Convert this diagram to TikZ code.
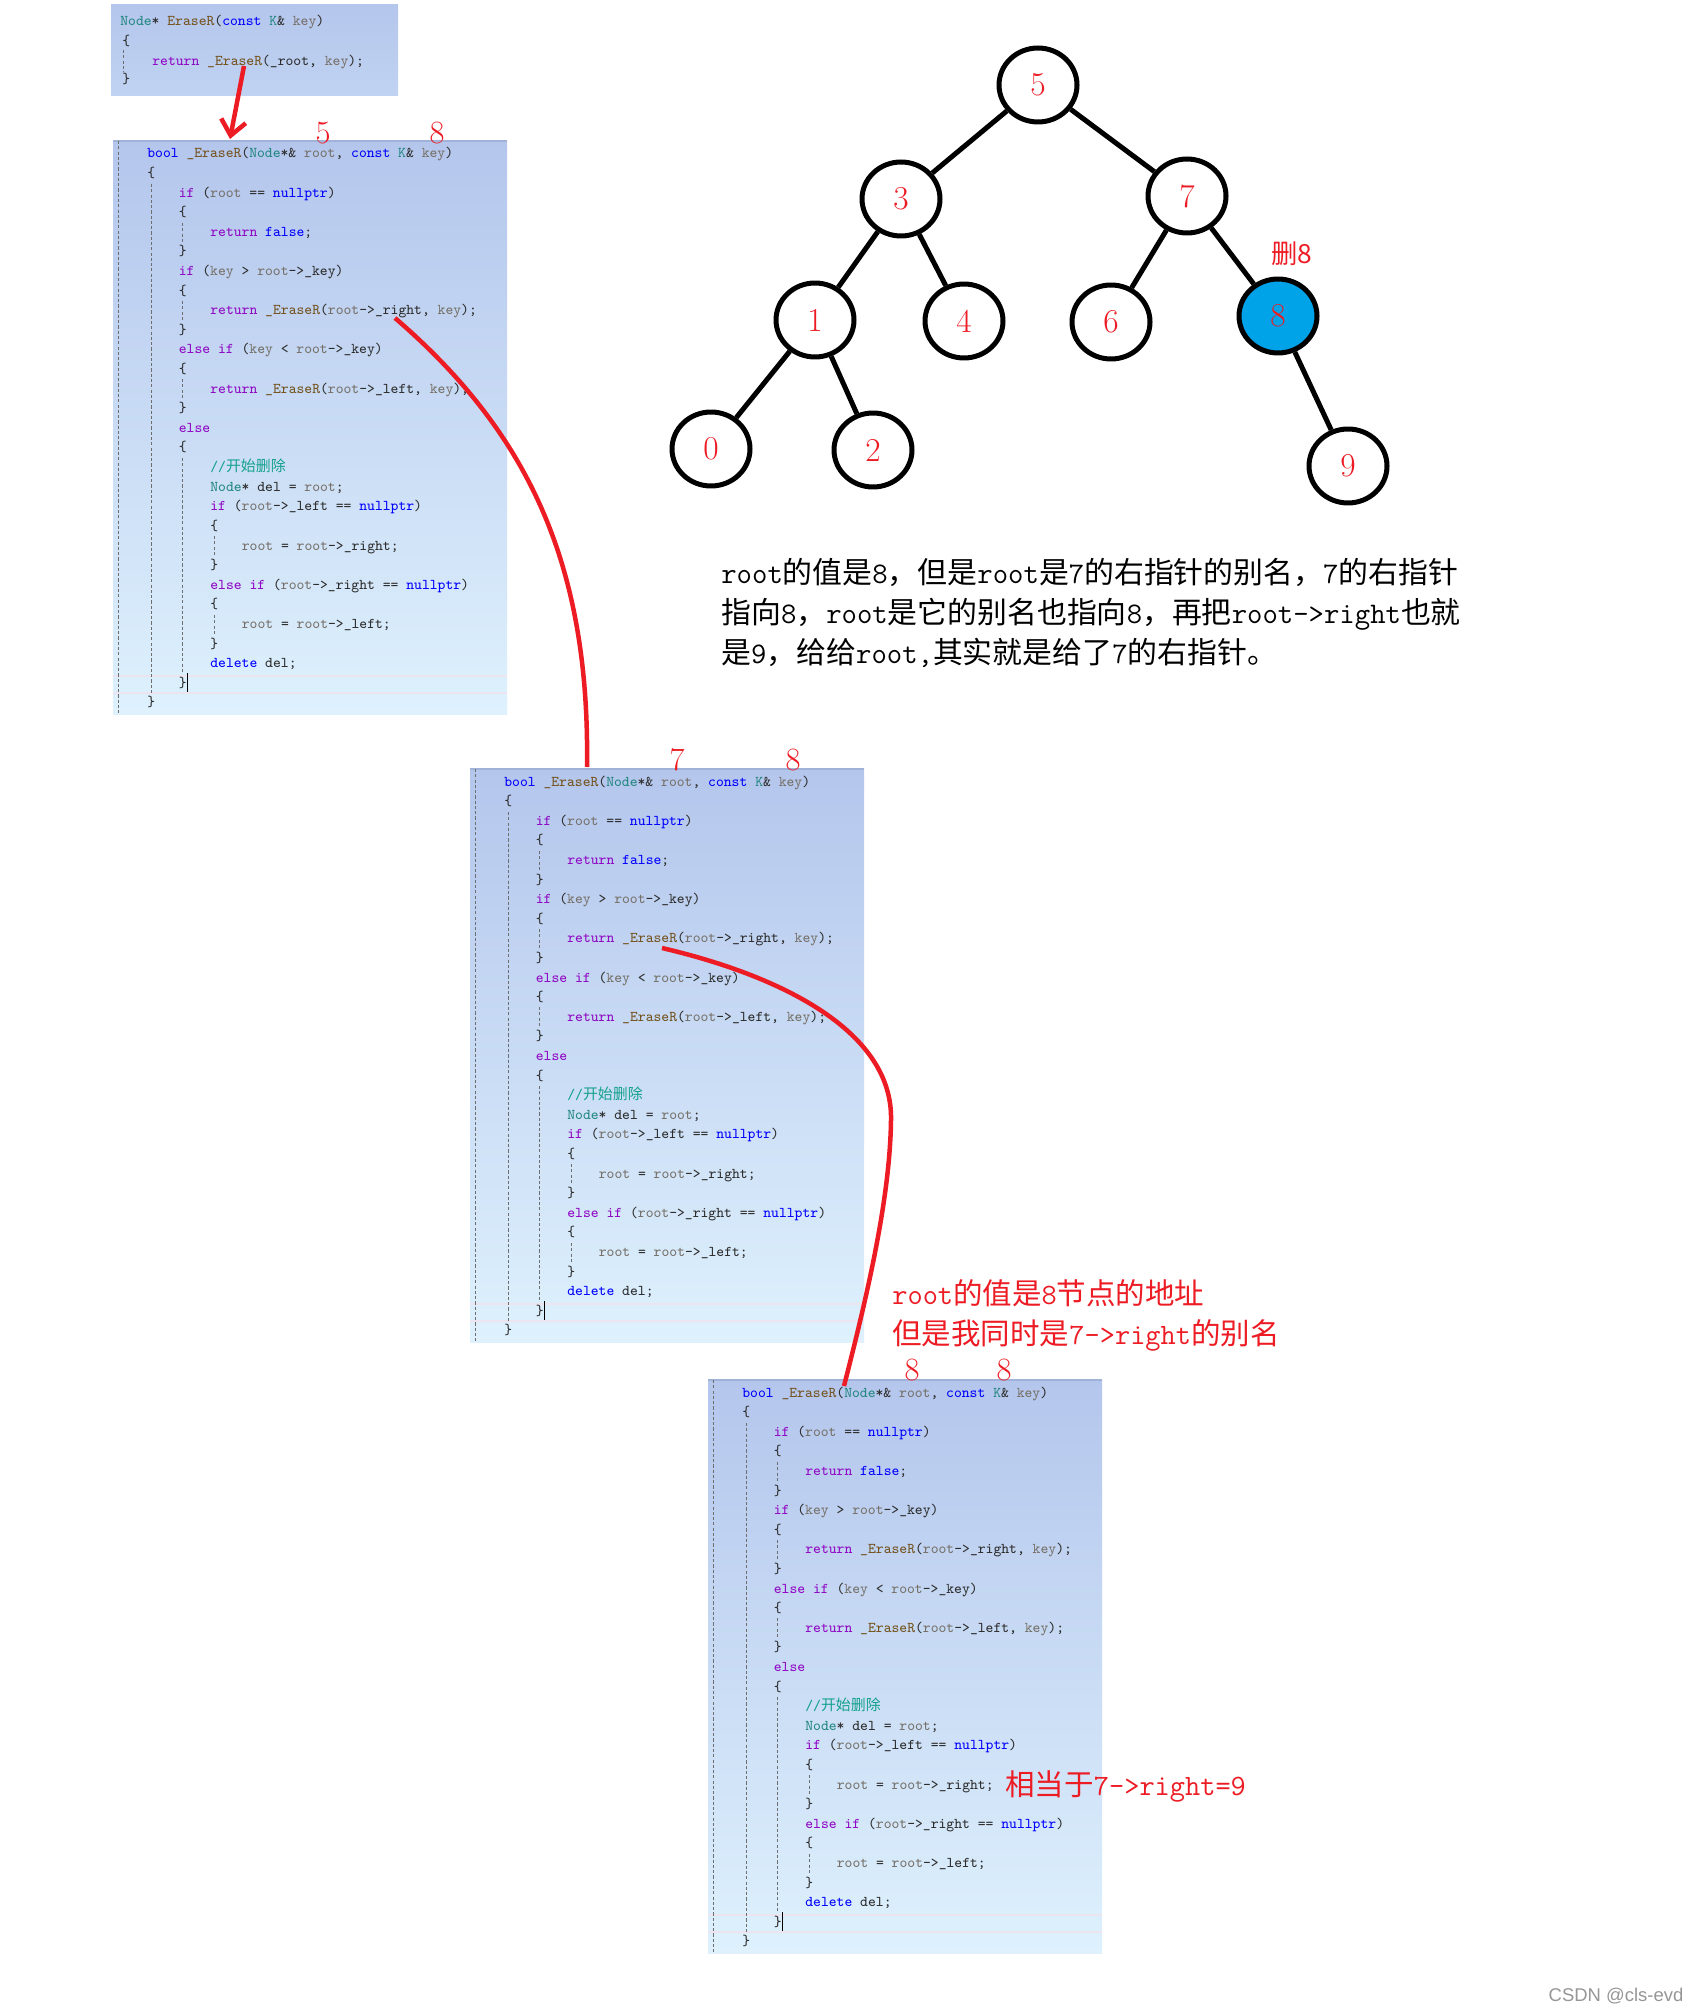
\documentclass[tikz,border=0pt]{standalone}
\usepackage{fontspec}
\usetikzlibrary{arrows.meta,shapes.geometric}
\newfontfamily\cjk{Noto Sans CJK SC}
\newfontfamily\wmfont{Liberation Sans}
\definecolor{markred}{RGB}{237,28,36}
\definecolor{delblue}{RGB}{0,162,232}
\definecolor{pnltop}{RGB}{180,198,236}
\definecolor{pnlbot}{RGB}{222,241,253}
\definecolor{pnlline}{RGB}{160,178,215}
\definecolor{curpink}{RGB}{236,228,238}
\definecolor{guidegray}{RGB}{110,110,110}
\definecolor{codetxt}{RGB}{45,45,45}
\definecolor{kwblue}{RGB}{0,0,255}
\definecolor{kwpurple}{RGB}{143,8,196}
\definecolor{typeteal}{RGB}{35,135,130}
\definecolor{fnbrown}{RGB}{116,83,31}
\definecolor{paramgray}{RGB}{118,112,105}
\definecolor{cmtgreen}{RGB}{20,160,140}
\definecolor{wmgray}{RGB}{150,150,150}

% chinese runs inside latin text
\newcommand\zh[1]{{\cjk #1}}

% token colours of the code screenshots
\newcommand\cKw[1]{\textcolor{kwblue}{#1}}
\newcommand\cCt[1]{\textcolor{kwpurple}{#1}}
\newcommand\cTy[1]{\textcolor{typeteal}{#1}}
\newcommand\cFn[1]{\textcolor{fnbrown}{#1}}
\newcommand\cPa[1]{\textcolor{paramgray}{#1}}
\newcommand\cCm[1]{\textcolor{cmtgreen}{#1}}
\newcommand\cursorbar{\textcolor{black}{\rule[-2.5pt]{0.8pt}{10.5pt}}}

% one code line: number, indent level, text
\newcommand\codeln[3]{\node[codeline] (\pnlname-#1) at ({34+31.5*#2},{17+19.6*(#1-1)}) {#3};}

% one _EraseR screenshot panel: name, x, y
\newcommand\codepanel[3]{%
  \def\pnlname{#1}%
  \begin{scope}[shift={(#2,#3)}]
    \shade[top color=pnltop,bottom color=pnlbot] (0,0) rectangle (394,573);
    \draw[pnledge] (0,0) -- (394,0);
    \draw[curline] (0,535) -- (394,535) (0,552) -- (394,552);
    % indent guides
    \draw[guide] (5,0) -- (5,573);
    \draw[guide] (38,43) -- (38,552);
    \draw[guide] (69.5,82) -- (69.5,101) (69.5,160) -- (69.5,180)
      (69.5,238) -- (69.5,258) (69.5,317) -- (69.5,532);
    \draw[guide] (101,395) -- (101,415) (101,474) -- (101,493);
    \codeln{1}{0}{\cKw{bool} \cFn{\_EraseR}(\cTy{Node}*\& \cPa{root}, \cKw{const} \cTy{K}\& \cPa{key})}
    \codeln{2}{0}{\{}
    \codeln{3}{1}{\cCt{if} (\cPa{root} == \cKw{nullptr})}
    \codeln{4}{1}{\{}
    \codeln{5}{2}{\cCt{return} \cKw{false};}
    \codeln{6}{1}{\}}
    \codeln{7}{1}{\cCt{if} (\cPa{key} > \cPa{root}->\_key)}
    \codeln{8}{1}{\{}
    \codeln{9}{2}{\cCt{return} \cFn{\_EraseR}(\cPa{root}->\_right, \cPa{key});}
    \codeln{10}{1}{\}}
    \codeln{11}{1}{\cCt{else} \cCt{if} (\cPa{key} < \cPa{root}->\_key)}
    \codeln{12}{1}{\{}
    \codeln{13}{2}{\cCt{return} \cFn{\_EraseR}(\cPa{root}->\_left, \cPa{key});}
    \codeln{14}{1}{\}}
    \codeln{15}{1}{\cCt{else}}
    \codeln{16}{1}{\{}
    \codeln{17}{2}{\cCm{//\zh{开始删除}}}
    \codeln{18}{2}{\cTy{Node}* del = \cPa{root};}
    \codeln{19}{2}{\cCt{if} (\cPa{root}->\_left == \cKw{nullptr})}
    \codeln{20}{2}{\{}
    \codeln{21}{3}{\cPa{root} = \cPa{root}->\_right;}
    \codeln{22}{2}{\}}
    \codeln{23}{2}{\cCt{else} \cCt{if} (\cPa{root}->\_right == \cKw{nullptr})}
    \codeln{24}{2}{\{}
    \codeln{25}{3}{\cPa{root} = \cPa{root}->\_left;}
    \codeln{26}{2}{\}}
    \codeln{27}{2}{\cKw{delete} del;}
    \codeln{28}{1}{\}\cursorbar}
    \codeln{29}{0}{\}}
    \coordinate (#1-in) at (117,-2);
    \coordinate (#1-right) at (282,177);
    \coordinate (#1-call) at (192,179);
  \end{scope}}

\begin{document}
\begin{tikzpicture}[x=0.02cm,y=-0.02cm]
  \tikzstyle{codeline}=[anchor=base west,inner sep=0,text=codetxt,
    font=\fontsize{8.5pt}{10pt}\selectfont\ttfamily]
  \tikzstyle{guide}=[draw=guidegray,line width=0.5pt,dash pattern=on 1.8pt off 1.2pt]
  \tikzstyle{pnledge}=[draw=pnlline,line width=0.8pt]
  \tikzstyle{curline}=[draw=curpink,line width=0.8pt]
  \tikzstyle{bst}=[ellipse,draw=black,line width=0.1cm,minimum width=1.56cm,
    minimum height=1.48cm,inner sep=0,text=markred,font=\fontsize{19pt}{19pt}\selectfont]
  \tikzstyle{branch}=[line width=0.1cm]
  \tikzstyle{argnum}=[inner sep=0,text=markred,font=\fontsize{18.5pt}{18.5pt}\selectfont]
  \tikzstyle{annot}=[anchor=west,align=left,inner sep=0,text=markred,
    font=\ttfamily\fontsize{16.8pt}{22.8pt}\selectfont]
  \tikzstyle{para}=[anchor=west,align=left,inner sep=0,text=black,
    font=\ttfamily\fontsize{17pt}{22.5pt}\selectfont]
  \tikzstyle{callarrow}=[draw=markred,line width=0.09cm,-{Straight Barb[length=0.3cm,width=0.5cm]}]
  \tikzstyle{callcurve}=[draw=markred,line width=0.09cm]

  \fill[white] (0,0) rectangle (1698,2013);
  \useasboundingbox (0,0) rectangle (1698,2013);

  % -- EraseR entry --
  \shade[top color=pnltop,bottom color=pnltop!70!pnlbot] (111,5) rectangle (398,96);
  \draw[guide] (123,50) -- (123,72);
  \node[codeline] (entry-1) at (120,26) {\cTy{Node}* \cFn{EraseR}(\cKw{const} \cTy{K}\& \cPa{key})};
  \node[codeline] (entry-2) at (122,46) {\{};
  \node[codeline] (entry-3) at (152,66) {\cCt{return} \cFn{\_EraseR}(\_root, \cPa{key});};
  \node[codeline] (entry-4) at (122,84) {\}};
  \coordinate (entry-call) at (244,66);

  % -- recursive calls --
  \codepanel{callA}{113}{141}
  \codepanel{callB}{470}{769}
  \codepanel{callC}{708}{1380}
  \coordinate (callC-link) at (844,1386);

  % -- argument values --
  \node[argnum] (argA-root) at (323,133) {5};
  \node[argnum] (argA-key) at (437,133) {8};
  \node[argnum] (argB-root) at (677,760) {7};
  \node[argnum] (argB-key) at (793,760) {8};
  \node[argnum] (argC-root) at (912,1370) {8};
  \node[argnum] (argC-key) at (1004,1370) {8};

  % -- call flow --
  \draw[callarrow] (entry-call) -- (callA-in);
  \draw[callcurve] (callA-right) .. controls (525,430) and (590,560) .. (callB-in);
  \draw[callcurve] (callB-call) .. controls (790,978) and (893,1035) .. (891,1120)
    .. controls (890,1200) and (866,1300) .. (callC-link);

  % -- search tree --
  \node[bst] (n5) at (1038,85) {5};
  \node[bst] (n3) at (901,199) {3};
  \node[bst] (n7) at (1187,196) {7};
  \node[bst] (n1) at (815,320) {1};
  \node[bst] (n4) at (964,321) {4};
  \node[bst] (n6) at (1111,322) {6};
  \node[bst,fill=delblue] (n8) at (1278,316) {8};
  \node[bst] (n0) at (711,449) {0};
  \node[bst] (n2) at (873,450) {2};
  \node[bst] (n9) at (1348,466) {9};
  \node[argnum,font=\cjk\fontsize{15pt}{15pt}\selectfont] (del8) at (1292,254) {删8};
  \draw[branch] (n5) -- (n3);
  \draw[branch] (n5) -- (n7);
  \draw[branch] (n3) -- (n1);
  \draw[branch] (n3) -- (n4);
  \draw[branch] (n7) -- (n6);
  \draw[branch] (n7) -- (n8);
  \draw[branch] (n1) -- (n0);
  \draw[branch] (n1) -- (n2);
  \draw[branch] (n8) -- (n9);

  % -- notes --
  \node[para] (note) at (721,613)
    {root\zh{的值是}8\zh{，但是}root\zh{是}7\zh{的右指针的别名，}7\zh{的右指针}\\
     \zh{指向}8\zh{，}root\zh{是它的别名也指向}8\zh{，再把}root->right\zh{也就}\\
     \zh{是}9\zh{，给给}root,\zh{其实就是给了}7\zh{的右指针。}};
  \node[annot] (alias) at (892,1315)
    {root\zh{的值是}8\zh{节点的地址}\\\zh{但是我同时是}7->right\zh{的别名}};
  \node[annot] (same) at (1005,1786) {\zh{相当于}7->right=9};

  \node[text=wmgray,inner sep=0,font=\wmfont\fontsize{10.5pt}{10.5pt}\selectfont] (mark) at (1616,1996) {CSDN @cls-evd};
\end{tikzpicture}
\end{document}
